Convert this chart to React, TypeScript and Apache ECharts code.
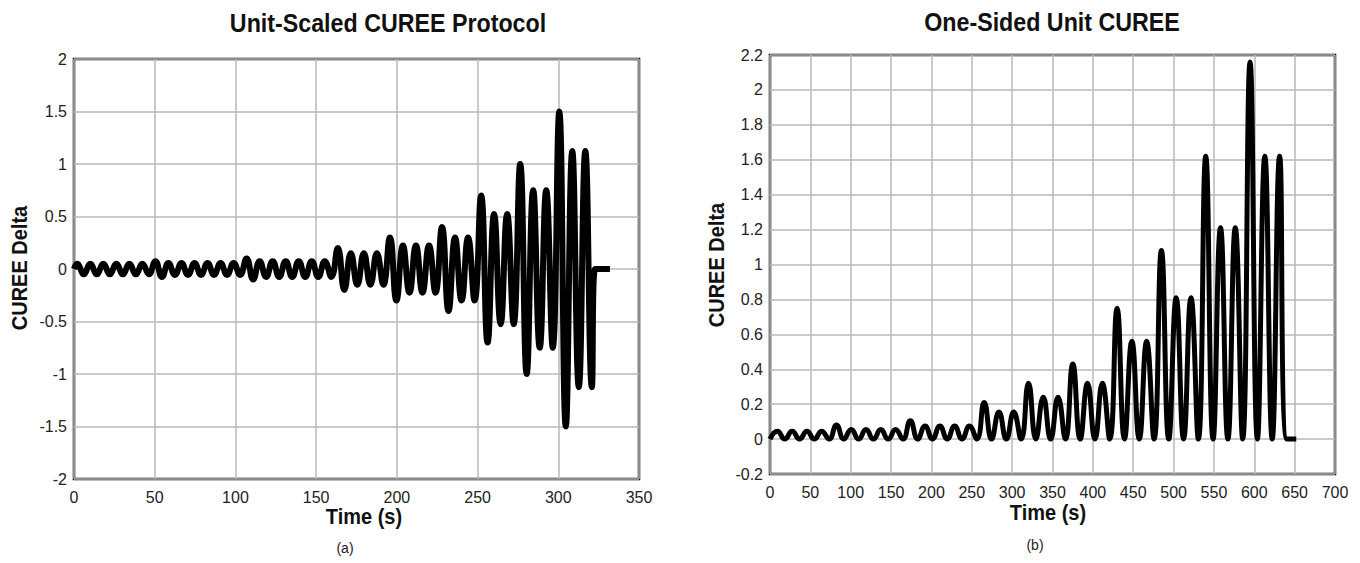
import React, { useEffect, useRef } from "react";
import * as echarts from "echarts";

const leftTitle = "Unit-Scaled CUREE Protocol";
const rightTitle = "One-Sided Unit CUREE";
const yAxisTitle = "CUREE Delta";
const xAxisTitle = "Time (s)";
const leftCaption = "(a)";
const rightCaption = "(b)";

// cycle period (s) and end of trailing flat segment (s)
const leftPeriod = 8.07;
const leftFlatEnd = 332;
const rightPeriod = 18.3;
const rightFlatEnd = 652;

// peak amplitude of each cycle
const leftAmplitudes = [
  0.05, 0.05, 0.05, 0.05, 0.05, 0.05,
  0.075, 0.056, 0.056, 0.056, 0.056, 0.056, 0.056,
  0.1, 0.075, 0.075, 0.075, 0.075, 0.075, 0.075,
  0.2, 0.15, 0.15, 0.15,
  0.3, 0.225, 0.225, 0.225,
  0.4, 0.3, 0.3,
  0.7, 0.525, 0.525,
  1.0, 0.75, 0.75,
  1.5, 1.125, 1.125,
];

const rightAmplitudes = [
  0.045, 0.045, 0.045, 0.045,
  0.08, 0.055, 0.055, 0.055, 0.055,
  0.105, 0.075, 0.075, 0.075, 0.075,
  0.21, 0.155, 0.155,
  0.32, 0.24, 0.24,
  0.43, 0.32, 0.32,
  0.75, 0.56, 0.56,
  1.08, 0.81, 0.81,
  1.62, 1.21, 1.21,
  2.16, 1.62, 1.62,
];

const leftX = { min: 0, max: 350, interval: 50 };
const leftY = { min: -2, max: 2, interval: 0.5 };
const rightX = { min: 0, max: 700, interval: 50 };
const rightY = { min: -0.2, max: 2.2, interval: 0.2 };

function twoSided(amps: number[], T: number, end: number) {
  const pts: number[][] = [[0, 0]];
  amps.forEach((a, k) => {
    pts.push([(k + 0.25) * T, a]);
    pts.push([(k + 0.75) * T, -a]);
  });
  pts.push([amps.length * T, 0]);
  pts.push([end, 0]);
  return pts;
}

function oneSided(amps: number[], T: number, end: number) {
  const pts: number[][] = [[0, 0]];
  amps.forEach((a, k) => {
    pts.push([(k + 0.5) * T, a]);
    pts.push([(k + 1) * T, 0]);
  });
  pts.push([end, 0]);
  return pts;
}

const FONT = "'Liberation Sans', Arial, sans-serif";

export default function App() {
  const ref = useRef<HTMLDivElement>(null);
  useEffect(() => {
    document.body.style.margin = "0";
    const chart = echarts.init(ref.current!, null, { renderer: "svg" });
    const fmt = (v: number) => String(+v.toFixed(2));
    const gridLine = { show: true, lineStyle: { color: "#b8b8b8", width: 1.5 } };
    const label = (margin: number) => ({ color: "#222", fontSize: 16, fontFamily: FONT, margin, formatter: fmt });
    const xAxisBase = (gi: number, r: any) => ({
      type: "value",
      gridIndex: gi,
      min: r.min,
      max: r.max,
      interval: r.interval,
      axisLine: { show: false },
      axisTick: { show: false },
      axisLabel: label(10),
      splitLine: gridLine,
    });
    const yAxisBase = (gi: number, r: any) => ({
      type: "value",
      gridIndex: gi,
      min: r.min,
      max: r.max,
      interval: r.interval,
      axisLine: { show: false },
      axisTick: { show: false },
      axisLabel: label(7),
      splitLine: gridLine,
    });
    const titleStyle = { fill: "#111", fontSize: 25, fontWeight: "bold", fontFamily: FONT, textAlign: "center", textVerticalAlign: "middle" };
    const axisNameStyle = { fill: "#111", fontSize: 21.5, fontWeight: "bold", fontFamily: FONT, textAlign: "center", textVerticalAlign: "middle" };
    const captionStyle = { fill: "#222", fontSize: 14, fontFamily: FONT, textAlign: "center", textVerticalAlign: "middle" };
    chart.setOption({
      animation: false,
      grid: [
        { left: 74, top: 59, width: 565, height: 420, show: true, borderColor: "#000", borderWidth: 2.5, backgroundColor: "transparent" },
        { left: 770, top: 55, width: 565, height: 419, show: true, borderColor: "#000", borderWidth: 2.5, backgroundColor: "transparent" },
      ],
      xAxis: [xAxisBase(0, leftX), xAxisBase(1, rightX)],
      yAxis: [yAxisBase(0, leftY), yAxisBase(1, rightY)],
      series: [
        {
          type: "line",
          xAxisIndex: 0,
          yAxisIndex: 0,
          data: twoSided(leftAmplitudes, leftPeriod, leftFlatEnd),
          smooth: 0.5,
          showSymbol: false,
          lineStyle: { color: "#000", width: 6 },
          z: 5,
        },
        {
          type: "line",
          xAxisIndex: 1,
          yAxisIndex: 1,
          data: oneSided(rightAmplitudes, rightPeriod, rightFlatEnd),
          smooth: 0.5,
          showSymbol: false,
          lineStyle: { color: "#000", width: 5 },
          z: 5,
        },
      ],
      graphic: [
        { type: "text", x: 388, y: 23, scaleX: 0.93, style: { ...titleStyle, text: leftTitle } },
        { type: "text", x: 1052, y: 22, scaleX: 0.93, style: { ...titleStyle, text: rightTitle } },
        { type: "text", x: 364, y: 516, scaleX: 0.93, style: { ...axisNameStyle, text: xAxisTitle } },
        { type: "text", x: 1048, y: 512, scaleX: 0.93, style: { ...axisNameStyle, text: xAxisTitle } },
        { type: "text", x: 19, y: 268, rotation: Math.PI / 2, scaleX: 0.93, style: { ...axisNameStyle, text: yAxisTitle } },
        { type: "text", x: 716, y: 265, rotation: Math.PI / 2, scaleX: 0.93, style: { ...axisNameStyle, text: yAxisTitle } },
        { type: "text", x: 345, y: 548, style: { ...captionStyle, text: leftCaption } },
        { type: "text", x: 1035, y: 545, style: { ...captionStyle, text: rightCaption } },
      ],
    });
    return () => chart.dispose();
  }, []);
  return <div ref={ref} style={{ width: 1360, height: 563 }} />;
}
